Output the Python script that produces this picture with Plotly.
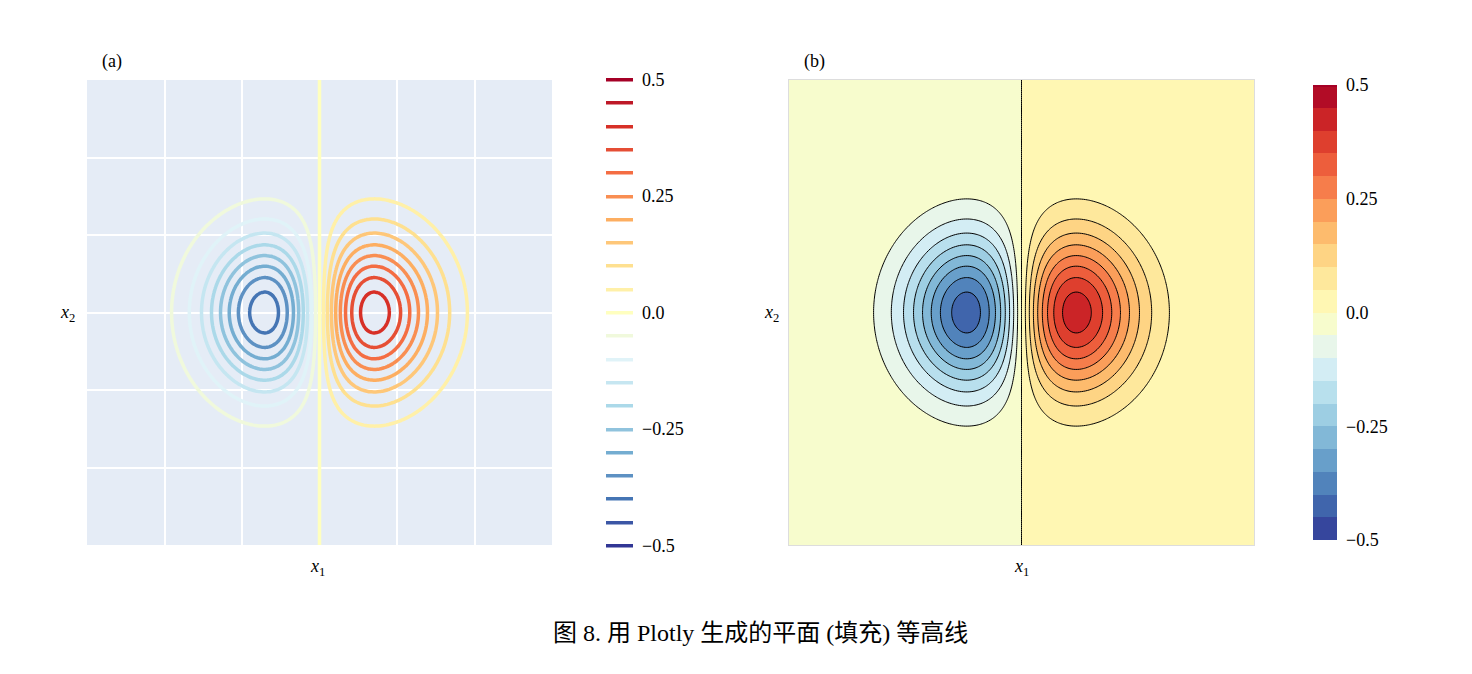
import numpy as np
import plotly.graph_objects as go

x_range = [-3.0, 3.0]
y_range = [-3.0, 3.0]
n_points = 241
levels = dict(start=-0.5, end=0.5, size=0.05)
cbar_ticks = [-0.5, -0.25, 0.0, 0.25, 0.5]
cbar_labels = ["\u22120.5", "\u22120.25", "0.0", "0.25", "0.5"]

x1 = np.linspace(x_range[0], x_range[1], n_points)
x2 = np.linspace(y_range[0], y_range[1], n_points)
X1, X2 = np.meshgrid(x1, x2)
Z = X1 * np.exp(-X1**2 - X2**2)

W, H, OFF = 1456, 658, 8
def px(x): return (x - OFF) / W
def py(y): return 1 - (y - OFF) / H

serif = "Liberation Serif, Times New Roman, serif"
cs = "RdYlBu"
tickfont = dict(family=serif, size=18, color="black")
cb_ticks = dict(tickvals=cbar_ticks, ticktext=cbar_labels, outlinewidth=0, tickfont=tickfont,
                ticks="outside", ticklen=6, tickcolor="rgba(0,0,0,0)")

fig = go.Figure()
fig.add_trace(go.Contour(
    x=x1, y=x2, z=Z, xaxis="x", yaxis="y", colorscale=cs, reversescale=True,
    zmin=-0.5, zmax=0.5, autocontour=False, contours=dict(coloring="lines", **levels),
    line=dict(width=3.5),
    colorbar=dict(x=px(596), xanchor="left", y=py(312.5), len=486/H, thickness=27, **cb_ticks)))
fig.add_trace(go.Contour(
    x=x1, y=x2, z=Z, xaxis="x2", yaxis="y2", colorscale=cs, reversescale=True,
    zmin=-0.5, zmax=0.5, autocontour=False, contours=dict(coloring="fill", **levels),
    line=dict(width=1, color="black"), showscale=False))
fig.add_trace(go.Contour(
    x=x1, y=x2, z=Z, xaxis="x2", yaxis="y2", colorscale=cs, reversescale=True, opacity=0,
    zmin=-0.5, zmax=0.5, autocontour=False, contours=dict(coloring="fill", **levels),
    line=dict(width=0), hoverinfo="skip",
    colorbar=dict(x=px(1303), xanchor="left", y=py(312.5), len=475/H, thickness=24, **cb_ticks)))

ydom = [py(545), py(80)]
common = dict(showticklabels=False, ticks="", zeroline=False)
fig.update_layout(
    width=W, height=H, margin=dict(l=0, r=0, t=0, b=0),
    paper_bgcolor="white", plot_bgcolor="#E5ECF6", showlegend=False,
    xaxis=dict(domain=[px(87), px(552)], range=x_range, showgrid=True, gridcolor="white",
               gridwidth=2, dtick=1, **common),
    yaxis=dict(domain=ydom, range=y_range, showgrid=True, gridcolor="white", gridwidth=2,
               dtick=1, **common),
    xaxis2=dict(domain=[px(789), px(1254)], range=x_range, showgrid=False, anchor="y2",
                showline=True, linecolor="#dddddd", mirror=True, **common),
    yaxis2=dict(domain=ydom, range=y_range, showgrid=False, anchor="x2",
                showline=True, linecolor="#dddddd", mirror=True, **common),
)

def ann(text, x, y, size=18, family=serif):
    fig.add_annotation(text=text, x=px(x), y=py(y), xref="paper", yref="paper",
                       xanchor="center", yanchor="middle",
                       showarrow=False, font=dict(family=family, size=size, color="black"))

ann("(a)", 112, 61)
ann("(b)", 814, 61)
ann("<i>x</i><sub>2</sub>", 67, 314)
ann("<i>x</i><sub>1</sub>", 317, 567)
ann("<i>x</i><sub>2</sub>", 771, 314)
ann("<i>x</i><sub>1</sub>", 1021, 567)
ann("图 8. 用 Plotly 生成的平面 (填充) 等高线", 760, 633, size=24,
    family="Liberation Serif, Noto Sans CJK SC, serif")

fig.write_html("out.html")
